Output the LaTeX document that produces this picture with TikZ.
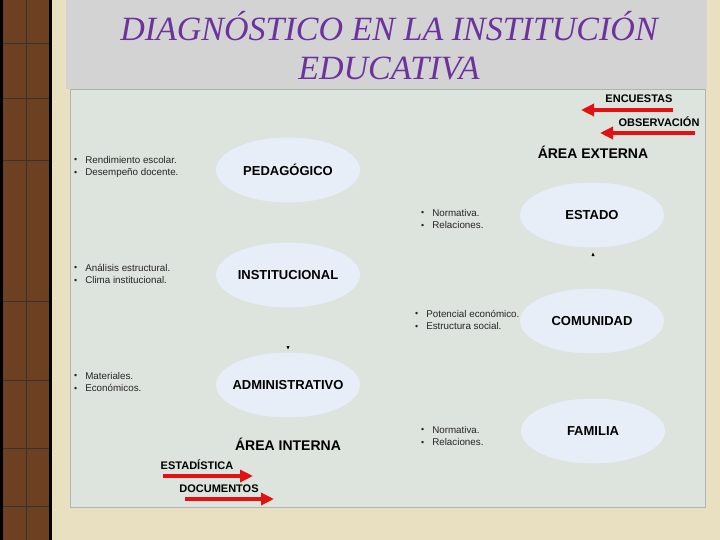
\documentclass[tikz,border=0pt]{standalone}
\usepackage{fontspec}
\setmainfont{Liberation Serif}
\setsansfont{Liberation Sans}
\usetikzlibrary{arrows.meta,shapes.geometric}
\definecolor{fondo}{RGB}{233,224,194}
\definecolor{cafe}{RGB}{108,64,32}
\definecolor{cabecera}{RGB}{211,211,211}
\definecolor{panel}{RGB}{221,227,221}
\definecolor{globo}{RGB}{232,238,248}
\definecolor{morado}{RGB}{108,50,158}
\definecolor{rojo}{RGB}{226,18,18}
\newcommand{\puntos}[2]{\sffamily\fontsize{9.8}{12.5}\selectfont
  \begin{tabular}{@{}l@{\hspace{8pt}}l@{}}
  \raisebox{0.3pt}{\scalebox{0.9}{\textbullet}} & #1\\
  \raisebox{0.3pt}{\scalebox{0.9}{\textbullet}} & #2
  \end{tabular}}
\begin{document}
\begin{tikzpicture}[x=1pt, y=-1pt, >=latex,
  area/.style={ellipse, fill=globo, minimum width=144pt, minimum height=65pt,
    inner xsep=-14pt, inner ysep=0pt, font=\sffamily\bfseries\fontsize{13}{15}\selectfont},
  lista/.style={anchor=west, inner sep=0pt, text=black!85},
  rotulo/.style={font=\sffamily\bfseries\fontsize{14}{16}\selectfont},
  fuente/.style={font=\sffamily\bfseries\fontsize{11}{13}\selectfont},
  flecha/.style={draw=rojo, line width=4pt, -{Triangle[length=13pt,width=12pt]}},
  punta/.style={fill=black}]
\useasboundingbox (0,0) rectangle (720,540);
% fondo y franja
\fill[fondo] (0,0) rectangle (720,540);
\fill[cafe] (0,0) rectangle (52,540);
\draw[line width=3pt] (1.5,0) -- (1.5,540); \draw[line width=3pt] (50.5,0) -- (50.5,540);
\draw[black!80] (26,0) -- (26,540);
\foreach \y in {43,98,160,301,380,448,506} \draw[black!80] (3,\y) -- (49,\y);
\fill[cabecera] (66,0) rectangle (707,89);
\filldraw[fill=panel, draw=gray!60] (70,89) rectangle (705,507);
% titulo
\node (titulo) at (389,46) [text=morado, align=center,
  font=\itshape\fontsize{34}{39}\selectfont] {DIAGNÓSTICO EN LA INSTITUCIÓN\\EDUCATIVA};
% area interna
\node[area] (ped) at (288,170) {PEDAGÓGICO};
\node[area] (ins) at (288,275) {INSTITUCIONAL};
\node[area] (adm) at (288,385) {ADMINISTRATIVO};
\node[lista] (lped) at (74,167) {\puntos{Rendimiento escolar.}{Desempeño docente.}};
\node[lista] (lins) at (74,275) {\puntos{Análisis estructural.}{Clima institucional.}};
\node[lista] (ladm) at (74,383) {\puntos{Materiales.}{Económicos.}};
\node[rotulo] (int) at (288,444) {ÁREA INTERNA};
% area externa
\node[area] (est) at (592,215) {ESTADO};
\node[area] (com) at (592,321) {COMUNIDAD};
\node[area] (fam) at (593,431) {FAMILIA};
\node[lista] (lest) at (421,220) {\puntos{Normativa.}{Relaciones.}};
\node[lista] (lcom) at (415,321) {\puntos{Potencial económico.}{Estructura social.}};
\node[lista] (lfam) at (421,437) {\puntos{Normativa.}{Relaciones.}};
\node[rotulo] (ext) at (593,152) {ÁREA EXTERNA};
% puntas sueltas
\fill[punta] (286.5,346) -- (289.5,346) -- (288,349.5) -- cycle;
\fill[punta] (591.5,256) -- (594.5,256) -- (593,252.5) -- cycle;
% fuentes de informacion
\node[fuente] (enc) at (639,99) {ENCUESTAS};
\node[fuente] (obs) at (659,122) {OBSERVACIÓN};
\node[fuente] (esta) at (197,465) {ESTADÍSTICA};
\node[fuente] (doc) at (219,489) {DOCUMENTOS};
\coordinate (enc1) at (673,110); \coordinate (enc2) at (581,110);
\coordinate (obs1) at (695,133); \coordinate (obs2) at (600,133);
\coordinate (esta1) at (163,476); \coordinate (esta2) at (253,476);
\coordinate (doc1) at (185,499); \coordinate (doc2) at (274,499);
\draw[flecha] (enc1) -- (enc2);
\draw[flecha] (obs1) -- (obs2);
\draw[flecha] (esta1) -- (esta2);
\draw[flecha] (doc1) -- (doc2);
\end{tikzpicture}
\end{document}
